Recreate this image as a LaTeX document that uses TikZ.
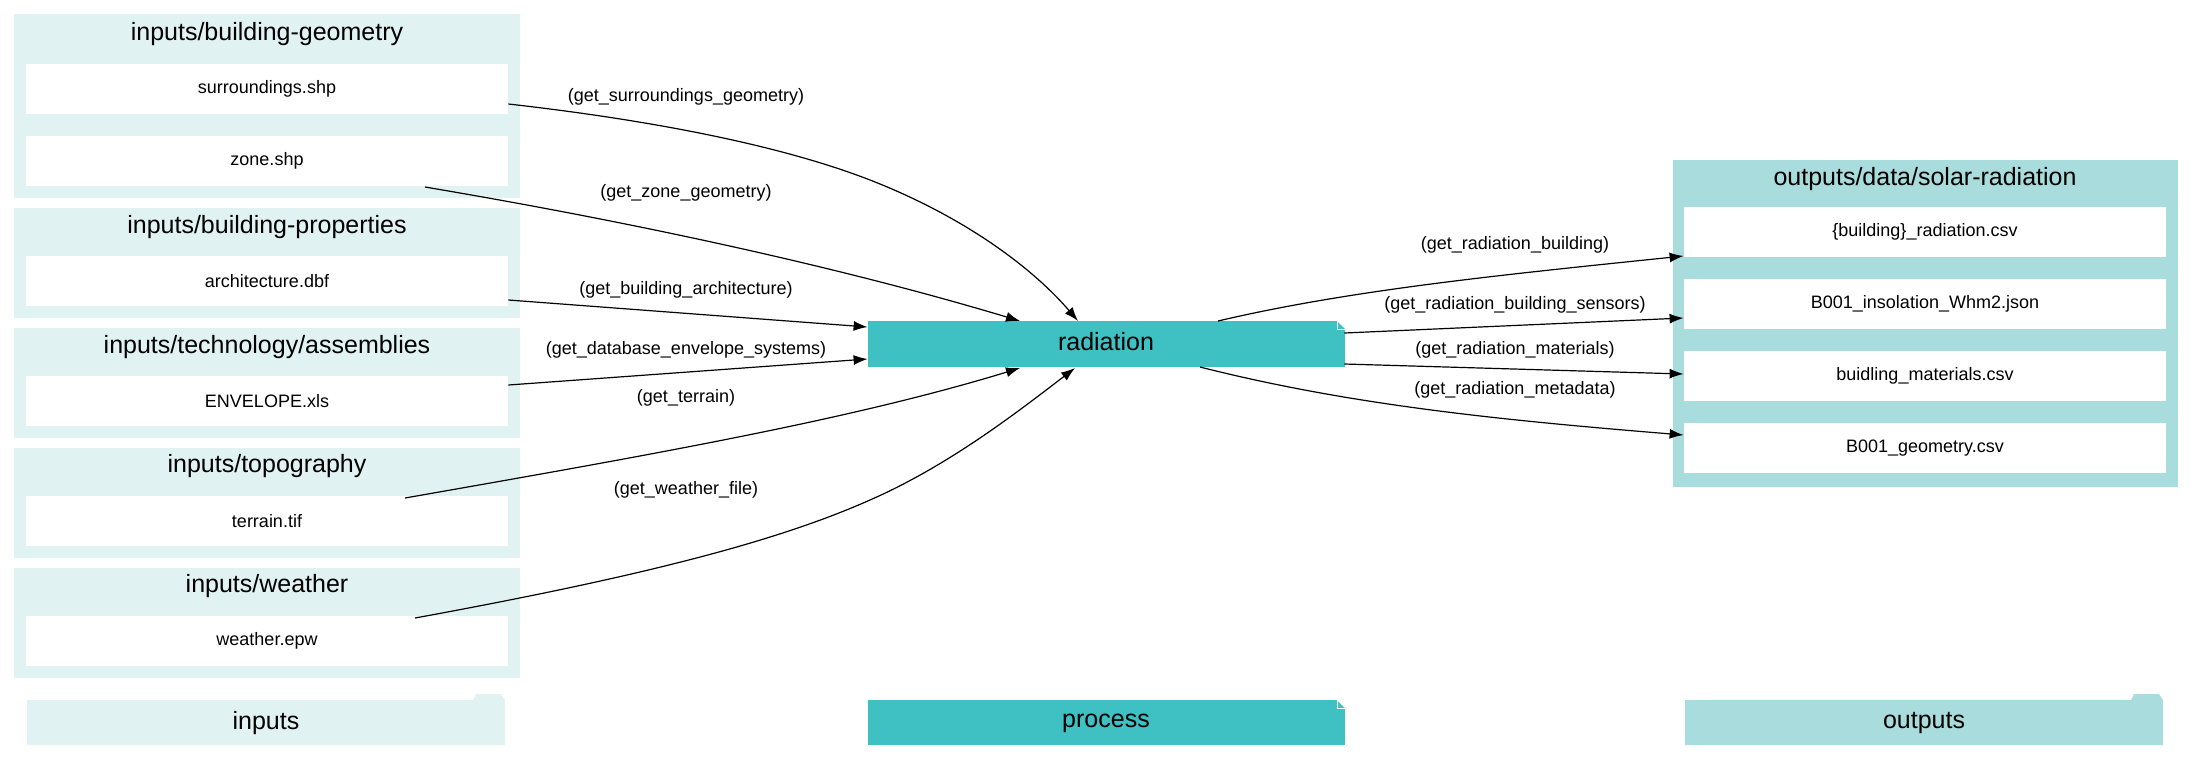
\documentclass[tikz,border=0pt]{standalone}
\usepackage{fontspec}
\setmainfont{Liberation Sans}
\usetikzlibrary{arrows.meta}
\definecolor{cin}{HTML}{E0F2F1}
\definecolor{cpr}{HTML}{3FC1C3}
\definecolor{cout}{HTML}{A9DCDC}
\begin{document}
\begin{tikzpicture}[x=0.5pt,y=-0.5pt,
  file/.style={fill=white,minimum width=241pt,minimum height=25pt,inner sep=0pt,font=\fontsize{9}{11}\selectfont},
  ttl/.style={font=\fontsize{12.5}{15}\selectfont},
  lbl/.style={font=\fontsize{9}{11}\selectfont},
  edge/.style={draw,-{Latex[length=7pt,width=5pt]},line width=0.6pt}]
\useasboundingbox (0,0) rectangle (2191,773);
% input clusters
\fill[cin] (14,14) rectangle (520,198);
\fill[cin] (14,208) rectangle (520,318);
\fill[cin] (14,328) rectangle (520,438);
\fill[cin] (14,448) rectangle (520,558);
\fill[cin] (14,568) rectangle (520,678);
\node[ttl] (t1) at (267,34) {inputs/building-geometry};
\node[ttl] (t2) at (267,227) {inputs/building-properties};
\node[ttl] (t3) at (267,347) {inputs/technology/assemblies};
\node[ttl] (t4) at (267,466) {inputs/topography};
\node[ttl] (t5) at (267,586) {inputs/weather};
\node[file] (sur) at (267,89) {surroundings.shp};
\node[file] (zone) at (267,161) {zone.shp};
\node[file] (arch) at (267,281) {architecture.dbf};
\node[file] (env) at (267,401) {ENVELOPE.xls};
\node[file] (ter) at (267,521) {terrain.tif};
\node[file] (wea) at (267,641) {weather.epw};
% outputs cluster
\fill[cout] (1673,160) rectangle (2178,487);
\node[ttl] (t6) at (1925,179) {outputs/data/solar-radiation};
\node[file] (o1) at (1925,232) {\{building\}\_radiation.csv};
\node[file] (o2) at (1925,304) {B001\_insolation\_Whm2.json};
\node[file] (o3) at (1925,376) {buidling\_materials.csv};
\node[file] (o4) at (1925,448) {B001\_geometry.csv};
% process
\fill[cpr] (868,321) rectangle (1345,367);
\fill[white] (1337,321) -- (1345,321) -- (1345,329) -- cycle;
\draw[white,line width=0.5pt] (1337,321) -- (1337,329) -- (1345,329);
\node[ttl,minimum width=238pt,minimum height=23pt,inner sep=0pt] (rad) at (1106,342) {radiation};
% edges in
\draw[edge] (sur.east |- 0,104) .. controls (650,120) and (780,145) .. (870,180) .. controls (960,215) and (1030,265) .. (1078,321);
\node[lbl] (l1) at (686,97) {(get\_surroundings\_geometry)};
\draw[edge] (425,187) .. controls (650,225) and (850,270) .. (1020,321);
\node[lbl] (l2) at (686,193) {(get\_zone\_geometry)};
\draw[edge] (arch.east |- 0,300) -- (rad.west |- 0,327);
\node[lbl] (l3) at (686,290) {(get\_building\_architecture)};
\draw[edge] (env.east |- 0,385) -- (rad.west |- 0,359);
\node[lbl] (l4) at (686,350) {(get\_database\_envelope\_systems)};
\draw[edge] (405,498) .. controls (650,455) and (850,420) .. (1020,368);
\node[lbl] (l5) at (686,398) {(get\_terrain)};
\draw[edge] (415,618) .. controls (650,575) and (780,540) .. (870,500) .. controls (950,465) and (1020,410) .. (1075,368);
\node[lbl] (l6) at (686,490) {(get\_weather\_file)};
% edges out
\draw[edge] (1218,321) .. controls (1350,290) and (1500,275) .. (o1.west |- 0,256);
\node[lbl] (l7) at (1515,245) {(get\_radiation\_building)};
\draw[edge] (rad.east |- 0,333) -- (o2.west |- 0,318);
\node[lbl] (l8) at (1515,305) {(get\_radiation\_building\_sensors)};
\draw[edge] (rad.east |- 0,364) -- (o3.west |- 0,374);
\node[lbl] (l9) at (1515,350) {(get\_radiation\_materials)};
\draw[edge] (1200,367) .. controls (1350,405) and (1500,420) .. (o4.west |- 0,435);
\node[lbl] (l10) at (1515,390) {(get\_radiation\_metadata)};
% legend
\fill[cin] (27,700) -- (473,700) -- (476,694) -- (501,694) -- (505,700) -- (505,745) -- (27,745) -- cycle;
\node[ttl] (lg1) at (266,723) {inputs};
\fill[cpr] (868,700) rectangle (1345,745);
\fill[white] (1337,700) -- (1345,700) -- (1345,708) -- cycle;
\draw[white,line width=0.5pt] (1337,700) -- (1337,708) -- (1345,708);
\node[ttl] (lg2) at (1106,723) {process};
\fill[cout] (1685,700) -- (2131,700) -- (2134,694) -- (2159,694) -- (2163,700) -- (2163,745) -- (1685,745) -- cycle;
\node[ttl] (lg3) at (1924,723) {outputs};
\end{tikzpicture}
\end{document}
